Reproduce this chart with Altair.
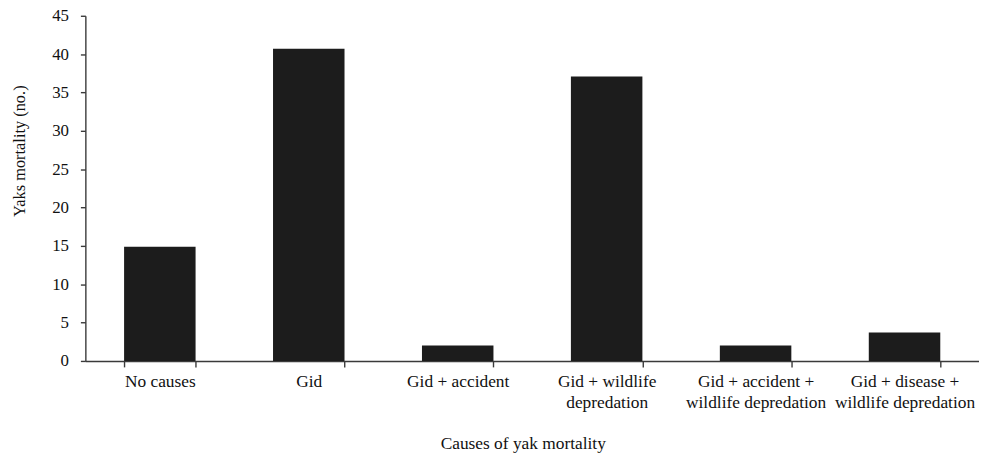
import altair as alt
import pandas as pd

categories = [
    "No causes",
    "Gid",
    "Gid + accident",
    "Gid + wildlife|depredation",
    "Gid + accident +|wildlife depredation",
    "Gid + disease +|wildlife depredation",
]
mortality = [14.9, 40.7, 2.0, 37.1, 2.0, 3.7]
y_ticks = [0, 5, 10, 15, 20, 25, 30, 35, 40, 45]

df = pd.DataFrame({"cause": categories, "count": mortality})

FONT = "Liberation Serif"
AXIS_COLOR = "#3a3a3a"

chart = alt.Chart(df).mark_bar(color="#1c1c1c").encode(
    x=alt.X(
        "cause:N",
        sort=categories,
        scale=alt.Scale(paddingInner=0.52, paddingOuter=0.26),
        axis=alt.Axis(
            title="Causes of yak mortality",
            labelAngle=0,
            labelExpr="isString(datum.value) ? split(datum.value, '|') : ''",
            labelLineHeight=21,
            labelFontSize=17.5,
            labelPadding=6,
            tickSize=6,
            tickBand="extent",
            titleFontSize=17.5,
            titleFontWeight="normal",
            titleX=441,
            titleY=83,
            titleBaseline="middle",
        ),
    ),
    y=alt.Y(
        "count:Q",
        scale=alt.Scale(domain=[0, 45], nice=False),
        axis=alt.Axis(
            title="Yaks mortality (no.)",
            values=y_ticks,
            labelFontSize=17,
            labelPadding=12,
            tickSize=5,
            grid=False,
            titleFontSize=16.5,
            titleFontWeight="normal",
            titleX=-66,
            titleY=136,
            titleAngle=-90,
            titleAlign="center",
            titleBaseline="middle",
        ),
    ),
).properties(
    width=901,
    height=348,
    autosize=alt.AutoSizeParams(type="none"),
    padding={"left": 78, "top": 6, "right": 0, "bottom": 94},
).configure_view(
    stroke=None
).configure_axis(
    labelFont=FONT,
    titleFont=FONT,
    labelColor="#111111",
    titleColor="#111111",
    domainColor=AXIS_COLOR,
    tickColor=AXIS_COLOR,
    domainWidth=1.4,
    tickWidth=1.4,
    grid=False,
)

chart.save("out.html", embed_options={"renderer": "svg", "actions": False})
